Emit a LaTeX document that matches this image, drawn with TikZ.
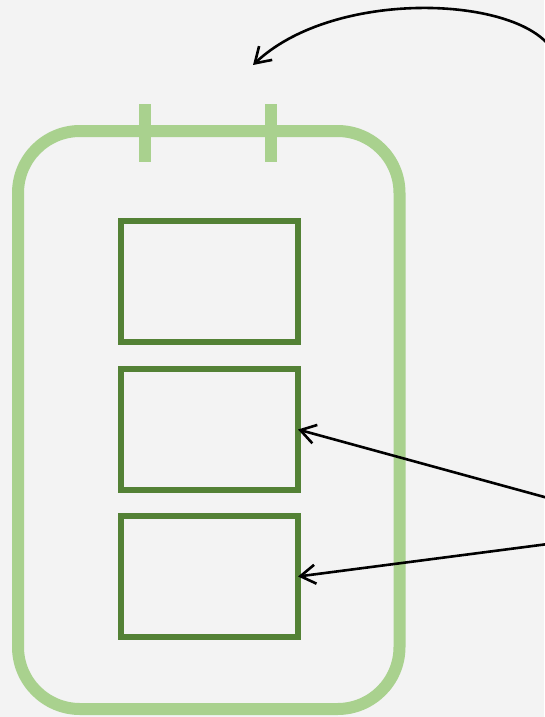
\documentclass[tikz,border=0pt]{standalone}
\usetikzlibrary{positioning,arrows.meta,calc}
\definecolor{bgGray}{HTML}{F3F3F3}
\definecolor{lightGreen}{HTML}{A9D18E}
\definecolor{darkGreen}{HTML}{538135}
\tikzset{
  casing/.style={draw=lightGreen, line width=12pt, rounded corners=62pt, inner sep=0pt,
    minimum width=381.5pt, minimum height=578pt},
  tab/.style={draw=lightGreen, line width=12pt},
  panel/.style={draw=darkGreen, line width=6pt, inner sep=0pt, outer sep=0pt,
    minimum width=177pt, minimum height=121pt},
  pointer/.style={draw=black, line width=2.6pt, -{Straight Barb[length=15pt,width=19pt]}}
}
\begin{document}
\begin{tikzpicture}[x=1pt, y=-1pt]
    \fill[bgGray] (0,0) rectangle (544,717);
    \useasboundingbox (0,0) rectangle (544,717);

    \node[casing] (case) at (208.75,420) {};
    \node[panel] (panelA) at (209.5,281.5) {};
    \node[panel] (panelB) at (209.5,429.5) {};
    \node[panel] (panelC) at (209.5,576.5) {};

    \coordinate (tabL1) at (145,104);
    \coordinate (tabL2) at (145,162);
    \coordinate (tabR1) at (271,104);
    \coordinate (tabR2) at (271,162);
    \draw[tab] (tabL1) -- (tabL2);
    \draw[tab] (tabR1) -- (tabR2);

    \coordinate (srcTop) at (546,42);
    \coordinate (dstTop) at (253,65);
    \coordinate (srcB) at (548,498);
    \coordinate (srcC) at (548,544);

    \draw[pointer] (srcTop) .. controls (500,-5) and (330,-8) .. (dstTop);
    \draw[pointer] (srcB) -- (panelB.east);
    \draw[pointer] (srcC) -- (panelC.east);
\end{tikzpicture}
\end{document}
